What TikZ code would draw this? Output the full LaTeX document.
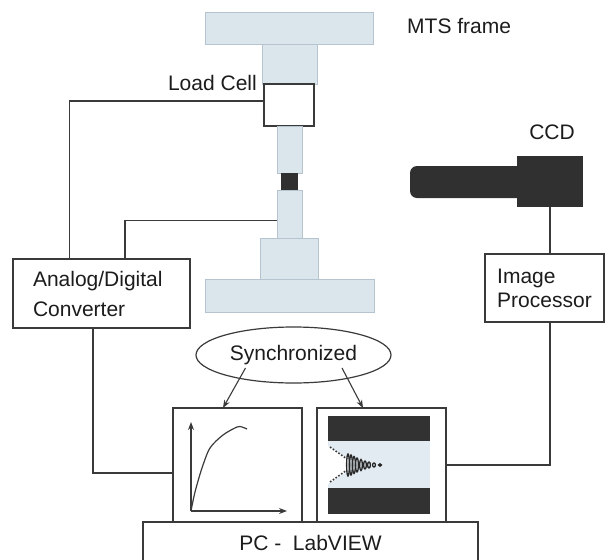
\documentclass[tikz,border=0pt]{standalone}
\usepackage{fontspec}
\setmainfont{Liberation Sans}
\usetikzlibrary{positioning,calc,arrows.meta,shapes.geometric}

\definecolor{partfill}{RGB}{218,229,236}
\definecolor{partedge}{RGB}{182,196,208}
\definecolor{wirecol}{RGB}{58,58,58}
\definecolor{ink}{RGB}{28,28,28}
\definecolor{camfill}{RGB}{48,48,48}
\definecolor{bandfill}{RGB}{50,50,50}
\definecolor{gapfill}{RGB}{226,235,241}

\begin{document}
\begin{tikzpicture}[
  x=1pt, y=-1pt,
  font=\fontsize{21}{24}\selectfont,
  text=ink,
  >=Stealth,
  part/.style={draw=partedge, line width=0.5pt, fill=partfill, inner sep=0pt, outer sep=0pt},
  box/.style={draw=wirecol, line width=1.3pt, fill=white, inner sep=0pt, outer sep=0pt},
  tag/.style={inner sep=0pt},
  wire/.style={draw=wirecol, line width=1.3pt},
  sync/.style={-{Stealth[length=8pt,width=6pt]}, draw=wirecol, line width=1.1pt},
  plotaxis/.style={-{Stealth[length=8pt,width=6pt]}, draw=wirecol, line width=1.1pt},
]
\useasboundingbox (0,0) rectangle (606,560);

% load frame, top to bottom
\node[part, minimum width=168pt, minimum height=32pt] (xhead) at (289,28) {};
\node[part, minimum width=55pt, minimum height=40pt] (ucol) at (289.5,64) {};
\node[box, minimum width=50pt, minimum height=42pt] (lcell) at (289,105) {};
\node[part, minimum width=25pt, minimum height=47pt] (urod) at (289.5,149.5) {};
\node[fill=camfill, inner sep=0pt, minimum width=17pt, minimum height=17pt] (spec) at (289.5,181.5) {};
\node[part, minimum width=25pt, minimum height=48pt] (lrod) at (289.5,214) {};
\node[part, minimum width=58pt, minimum height=41pt] (lblock) at (289,258.5) {};
\node[part, minimum width=169pt, minimum height=33pt] (base) at (289.5,295.5) {};

\node[tag, anchor=base west] (mtslbl) at (407,33) {MTS frame};
\node[tag, anchor=base east] (lcelllbl) at (257,90) {Load Cell};

% camera
\node[fill=camfill, inner sep=0pt, outer sep=0pt, minimum width=66pt, minimum height=51pt] (cam) at (550,181.5) {};
\fill[camfill] (517,166) [rounded corners=7pt] -- (410,166) -- (410,198) [sharp corners] -- (517,198) -- cycle;
\node[tag, anchor=base] (camlbl) at (552,139) {CCD};

% signal boxes
\node[box, text width=137pt, align=left, inner xsep=20pt, minimum height=69pt,
      font=\fontsize{21}{30}\selectfont] (adc) at (101.5,293.5) {Analog/Digital\\Converter};
\node[box, align=left, minimum width=119pt, minimum height=68pt] (improc) at (544.5,288) {Image\\Processor};

\node[ellipse, draw=wirecol, line width=1.2pt, inner sep=0pt, minimum width=195pt, minimum height=56pt] (syncnote) at (293.5,355) {Synchronized};

\node[box, minimum width=335pt, minimum height=41pt] (pc) at (310.5,542.5) {PC -\ \ LabVIEW};
\node[box, minimum width=129pt, minimum height=114pt] (plot) at (237.5,465) {};
\node[box, minimum width=129pt, minimum height=114pt] (img) at (381.5,465) {};

% load-displacement curve
\coordinate (orig) at (191,511);
\draw[plotaxis] (orig) -- (191,422);
\draw[plotaxis] (orig) -- (287,511);
\draw[wire, line width=1.2pt] plot[smooth] coordinates {(191,511) (195,492) (202,468) (210,448) (223,435) (237,427) (242,427) (247,429)};

% fringe image of the crack
\fill[bandfill] (328,416) rectangle (430,441);
\fill[gapfill] (328,441) rectangle (430,488);
\fill[bandfill] (328,488) rectangle (430,514);
\fill[white] (328,446) -- (348,459) -- (348,471) -- (328,484) -- cycle;
\draw[wirecol, line width=1.6pt, dash pattern=on 1.6pt off 1.8pt] (330,447) -- (347,459);
\draw[wirecol, line width=1.6pt, dash pattern=on 1.6pt off 1.8pt] (330,482) -- (347,470);
\foreach \cx/\ry in {348/11, 351/10, 354/8.5, 357/7, 361/5.5, 365/4, 369/3, 374/2, 380/1.2}
  \draw[black!85, line width=1.3pt] (\cx,465) ellipse [x radius=1.4, y radius=\ry];

% wiring
\draw[wire] ([yshift=4pt]lcell.west) -| ([xshift=-32pt]adc.north);
\draw[wire] ([yshift=-6.5pt]lrod.west) -| ([xshift=23.5pt]adc.north);
\draw[wire] ([xshift=-8.5pt]adc.south) |- ([yshift=-8pt]plot.west);
\draw[wire] (cam.south) -- (cam.south |- improc.north);
\draw[wire] (cam.south |- improc.south) |- (img.east);

\draw[sync] ([xshift=-48pt,yshift=-13pt]syncnote.center) -- ([xshift=-14.5pt]plot.north);
\draw[sync] ([xshift=48.5pt,yshift=-13pt]syncnote.center) -- ([xshift=-18.5pt]img.north);

\end{tikzpicture}
\end{document}
